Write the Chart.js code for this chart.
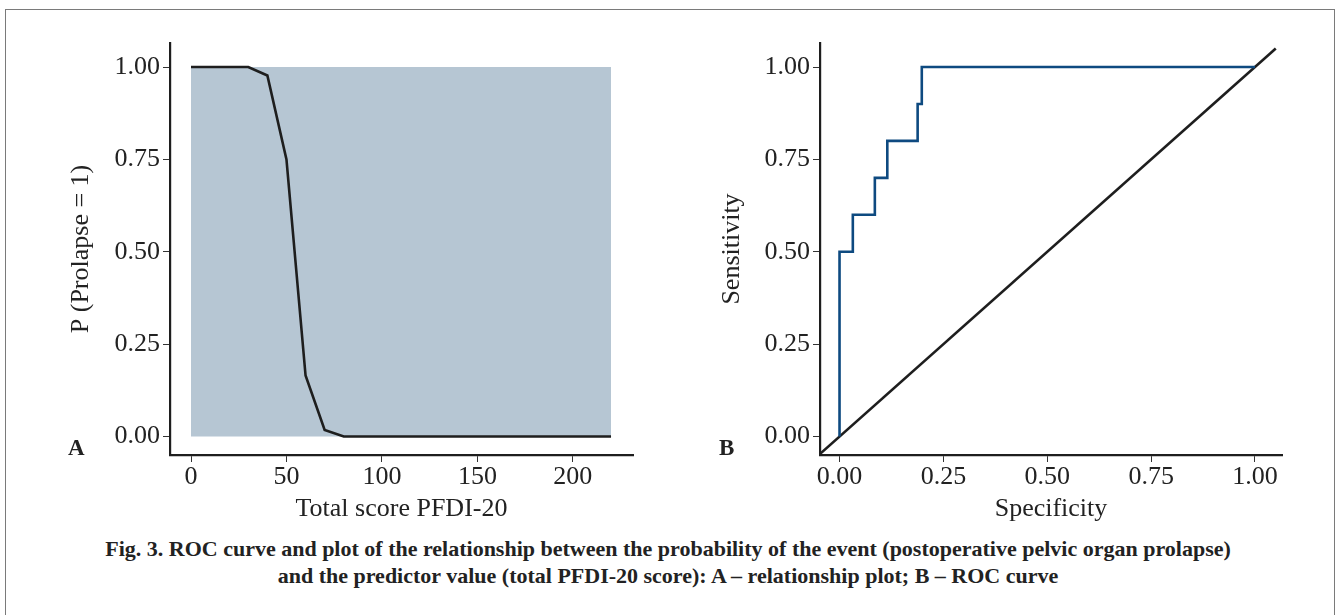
<!DOCTYPE html>
<html>
<head>
<meta charset="utf-8">
<script src="https://cdn.jsdelivr.net/npm/chart.js@4"></script>
<style>
  body { margin: 0; background: #fff; width: 1336px; height: 615px; overflow: hidden; position: relative; font-family: "Liberation Serif", "Times New Roman", serif; color: #222; }
  .frame { position: absolute; left: 5px; top: 9px; width: 1328px; height: 700px; border: 1px solid #7a7a7a; }
  .panel { position: absolute; top: 0; width: 668px; height: 530px; }
  .tag { position: absolute; font-weight: bold; font-size: 23px; line-height: 23px; }
  .caption { position: absolute; left: 0; width: 1336px; top: 535px; text-align: center; font-weight: bold; font-size: 22px; line-height: 27px; color: #222; }
</style>
</head>
<body>
<div class="frame"></div>
<div class="panel" style="left:0"><canvas id="chartA"></canvas></div>
<div class="panel" style="left:668px"><canvas id="chartB"></canvas></div>
<div class="tag" style="left:68px; top:436px">A</div>
<div class="tag" style="left:719px; top:436px">B</div>
<div class="caption">Fig. 3. ROC curve and plot of the relationship between the probability of the event (postoperative pelvic organ prolapse)<br>and the predictor value (total PFDI-20 score): A – relationship plot; B – ROC curve</div>

<script>
// Панель A: вероятность события от суммы баллов PFDI-20
const scoreX = [0, 30, 40, 50, 60, 70, 80, 220];
const probY = [1, 1, 0.977, 0.75, 0.165, 0.018, 0, 0];
const shadeX = [0, 220];
const shadeY = [1, 1];

// Панель B: ROC-кривая
const rocSpec = [0, 0, 0.032, 0.032, 0.085, 0.085, 0.115, 0.115, 0.188, 0.188, 0.198, 0.198, 1.0];
const rocSens = [0, 0.5, 0.5, 0.6, 0.6, 0.7, 0.7, 0.8, 0.8, 0.9, 0.9, 1.0, 1.0];
const diagX = [-0.05, 1.05];
const diagY = [-0.05, 1.05];

// Деления осей
const xTicksA = [0, 50, 100, 150, 200];
const xTicksB = [0, 0.25, 0.5, 0.75, 1];
const yTicks = [0, 0.25, 0.5, 0.75, 1];

const ink = '#1e1e1e';
const serif = '"Liberation Serif", "Times New Roman", serif';

const pts = (xs, ys) => xs.map((x, i) => ({ x: x, y: ys[i] }));

/**
 * Общая настройка оси в стиле ggplot (classic)
 */
function makeAxis(ticksArr, min, max, fmt, title, titlePad, size, horizontal) {
    return {
        type: 'linear',
        min: min,
        max: max,
        afterBuildTicks: (s) => { s.ticks = ticksArr.map(v => ({ value: v })); },
        afterFit: (s) => { if (horizontal) s.height = size; else s.width = size; },
        border: { display: true, color: ink, width: 2.2 },
        grid: { display: true, drawOnChartArea: false, drawTicks: true, tickLength: 7, color: '#333', lineWidth: 1 },
        ticks: {
            color: '#222',
            padding: horizontal ? 0 : 3,
            autoSkip: false,
            maxRotation: 0,
            font: { family: serif, size: 26 },
            callback: (v) => fmt(v)
        },
        title: {
            display: true,
            text: title,
            color: '#222',
            font: { family: serif, size: 26 },
            padding: titlePad
        }
    };
}

const commonOpts = {
    responsive: true,
    maintainAspectRatio: false,
    animation: false,
    plugins: { legend: { display: false }, tooltip: { enabled: false } },
    elements: { point: { radius: 0 } }
};

new Chart(document.getElementById('chartA'), {
    type: 'line',
    data: {
        datasets: [
            {
                data: pts(scoreX, probY),
                borderColor: ink,
                borderWidth: 2.6,
                tension: 0,
                fill: false
            },
            {
                data: pts(shadeX, shadeY),
                borderWidth: 0,
                backgroundColor: '#b6c6d3',
                fill: { value: 0 }
            }
        ]
    },
    options: {
        ...commonOpts,
        layout: { padding: { left: 0, top: 43, right: 35, bottom: 0 } },
        scales: {
            x: makeAxis(xTicksA, -11, 231.5, v => String(v), 'Total score PFDI-20', { top: 0, bottom: 5 }, 75, true),
            y: makeAxis(yTicks, -0.05, 1.065, v => v.toFixed(2), 'P (Prolapse = 1)', { top: 66, bottom: 0 }, 170, false)
        }
    }
});

new Chart(document.getElementById('chartB'), {
    type: 'line',
    data: {
        datasets: [
            {
                data: pts(rocSpec, rocSens),
                borderColor: '#0e4a80',
                borderWidth: 2.6,
                tension: 0,
                fill: false
            },
            {
                data: pts(diagX, diagY),
                borderColor: ink,
                borderWidth: 2.6,
                tension: 0,
                fill: false
            }
        ]
    },
    options: {
        ...commonOpts,
        layout: { padding: { left: 0, top: 43, right: 54, bottom: 0 } },
        scales: {
            x: makeAxis(xTicksB, -0.047, 1.065, v => v.toFixed(2), 'Specificity', { top: 0, bottom: 5 }, 75, true),
            y: makeAxis(yTicks, -0.05, 1.065, v => v.toFixed(2), 'Sensitivity', { top: 49, bottom: 0 }, 152, false)
        }
    }
});
</script>
</body>
</html>
